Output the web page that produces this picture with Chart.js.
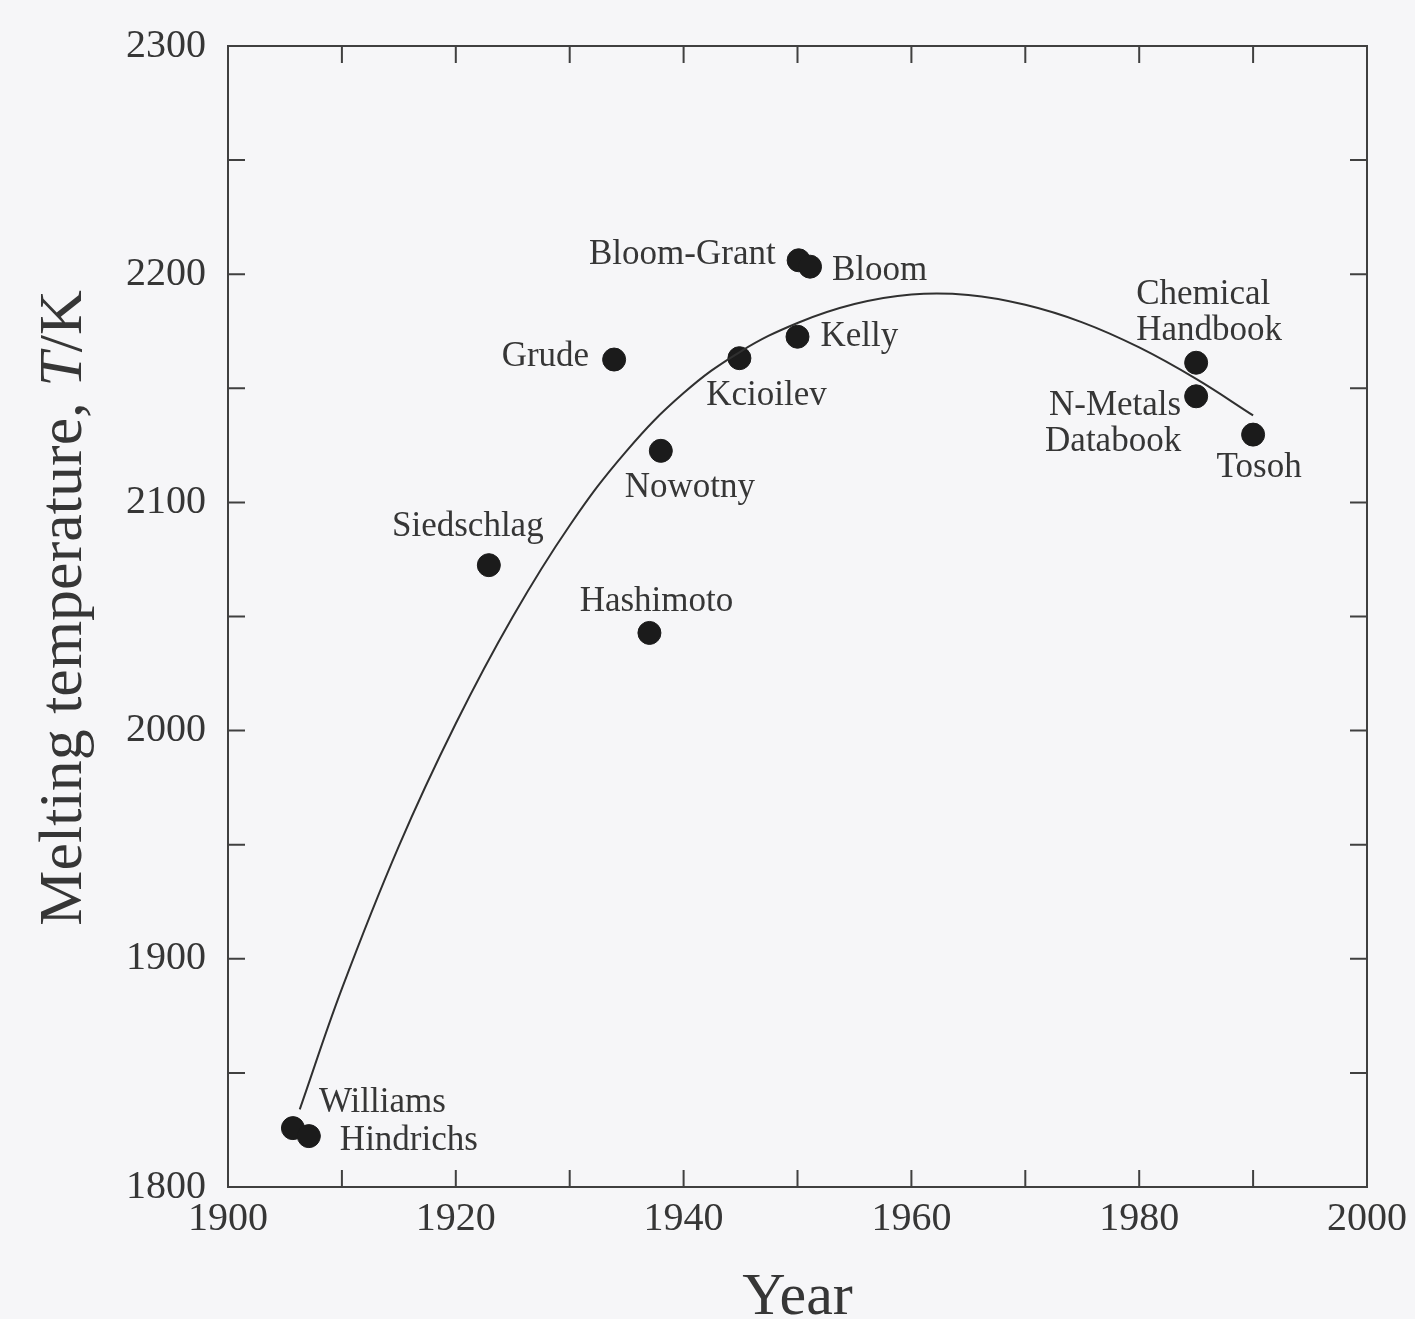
<!DOCTYPE html>
<html>
<head>
<meta charset="utf-8">
<script src="https://cdn.jsdelivr.net/npm/chart.js@4.4.0/dist/chart.umd.min.js"></script>
<style>
html, body { margin: 0; padding: 0; background: #f6f6f8; }
#wrap { width: 1415px; height: 1319px; }
</style>
</head>
<body>
<div id="wrap"><canvas id="myChart" width="1415" height="1319"></canvas></div>
<script>
// measured melting temperatures
const names = ['Williams', 'Hindrichs', 'Siedschlag', 'Hashimoto', 'Grude', 'Nowotny', 'Kcioilev',
    'Kelly', 'Bloom-Grant', 'Bloom', 'Chemical\nHandbook', 'N-Metals\nDatabook', 'Tosoh'];
const years = [1905.7, 1907.1, 1922.9, 1937.0, 1933.9, 1938.0, 1944.9, 1950.0, 1950.1, 1951.1, 1985.0, 1985.0, 1990.0];
const temps = [1825.8, 1822.3, 2072.5, 2042.8, 2162.6, 2122.6, 2163.2, 2172.6, 2206.1, 2203.3, 2161.2, 2146.5, 2129.7];

// fitted curve
const fitYears = [1906.3, 1910, 1915, 1920, 1925, 1930, 1935, 1940, 1945,
    1950, 1955, 1960, 1965, 1970, 1975, 1980, 1985, 1990];
const fitTemps = [1834.0, 1886.9, 1949.4, 2003.1, 2049.9, 2089.9, 2122.6, 2147.9, 2166.1,
    2178.6, 2186.9, 2191.1, 2190.9, 2186.6, 2178.9, 2167.9, 2154.1, 2138.1];

const xMinor = [1910, 1920, 1930, 1940, 1950, 1960, 1970, 1980, 1990];
const yMinor = [1850, 1900, 1950, 2000, 2050, 2100, 2150, 2200, 2250];

// label placement: dx, dy, align
const labelPlace = [
    [26, -25, 'left'], [31, 5, 'left'], [-21, -38, 'center'], [7, -31, 'center'],
    [-25, -3, 'right'], [29, 37, 'center'], [27, 38, 'center'], [23, 0, 'left'],
    [-23, -5, 'right'], [22, 4, 'left'], [-60, -68, 'left'], [-15, 10, 'right'], [6, 33, 'center']
];

const serif = "'Liberation Serif', 'Times New Roman', serif";
const ink = '#363636';

const frame = {
    id: 'frame',
    afterDatasetsDraw(chart) {
        const { ctx, chartArea: a, scales: { x, y } } = chart;
        ctx.save();
        ctx.strokeStyle = '#404040';
        ctx.lineWidth = 2;
        ctx.strokeRect(a.left, a.top, a.right - a.left, a.bottom - a.top);
        ctx.beginPath();
        xMinor.forEach(v => {
            const px = x.getPixelForValue(v);
            ctx.moveTo(px, a.bottom); ctx.lineTo(px, a.bottom - 17);
            ctx.moveTo(px, a.top); ctx.lineTo(px, a.top + 17);
        });
        yMinor.forEach(v => {
            const py = y.getPixelForValue(v);
            ctx.moveTo(a.left, py); ctx.lineTo(a.left + 17, py);
            ctx.moveTo(a.right, py); ctx.lineTo(a.right - 17, py);
        });
        ctx.stroke();

        // y title with italic T
        ctx.translate(65, 608);
        ctx.rotate(-Math.PI / 2);
        ctx.fillStyle = ink;
        ctx.textBaseline = 'middle';
        const parts = [['Melting temperature, ', 'normal'], ['T', 'italic'], ['/K', 'normal']];
        let w = 0;
        parts.forEach(p => { ctx.font = p[1] + ' 62px ' + serif; w += ctx.measureText(p[0]).width; });
        let cx = -w / 2;
        parts.forEach(p => {
            ctx.font = p[1] + ' 62px ' + serif;
            ctx.fillText(p[0], cx, 0);
            cx += ctx.measureText(p[0]).width;
        });
        ctx.restore();
    }
};

const pointLabels = {
    id: 'pointLabels',
    afterDatasetsDraw(chart) {
        const { ctx } = chart;
        const meta = chart.getDatasetMeta(1);
        ctx.save();
        ctx.font = '35px ' + serif;
        ctx.fillStyle = ink;
        ctx.textBaseline = 'middle';
        meta.data.forEach((pt, i) => {
            const [dx, dy, align] = labelPlace[i];
            ctx.textAlign = align;
            names[i].split('\n').forEach((line, k) => {
                ctx.fillText(line, pt.x + dx, pt.y + dy + k * 36);
            });
        });
        ctx.restore();
    }
};

const data = {
    datasets: [{
        type: 'line',
        label: 'fit',
        data: fitYears.map((v, i) => ({ x: v, y: fitTemps[i] })),
        borderColor: '#303030',
        borderWidth: 2,
        pointRadius: 0,
        fill: false,
        tension: 0.4
    }, {
        type: 'scatter',
        label: 'measured',
        data: years.map((v, i) => ({ x: v, y: temps[i] })),
        backgroundColor: '#1b1b1b',
        borderColor: '#1b1b1b',
        pointRadius: 11.5
    }]
};

const config = {
    type: 'scatter',
    data: data,
    options: {
        responsive: false,
        animation: false,
        layout: { padding: { left: 0, right: 39, top: 45, bottom: 0 } },
        plugins: { legend: { display: false }, tooltip: { enabled: false } },
        scales: {
            x: {
                type: 'linear',
                min: 1900,
                max: 2000,
                afterFit: s => { s.height = 132; },
                grid: { display: false, drawTicks: false },
                border: { display: false },
                ticks: {
                    stepSize: 20,
                    padding: 8,
                    maxRotation: 0,
                    color: ink,
                    font: { family: serif, size: 40 },
                    callback: v => String(v)
                },
                title: {
                    display: true,
                    text: 'Year',
                    color: ink,
                    font: { family: serif, size: 60, lineHeight: 0.7 },
                    padding: { top: 0, bottom: 0 }
                }
            },
            y: {
                min: 1800,
                max: 2300,
                afterFit: s => { s.width = 228; },
                grid: { display: false, drawTicks: false },
                border: { display: false },
                ticks: {
                    stepSize: 100,
                    padding: 22,
                    color: ink,
                    font: { family: serif, size: 40 },
                    callback: v => String(v)
                }
            }
        }
    },
    plugins: [frame, pointLabels]
};

const myChart = new Chart(document.getElementById('myChart'), config);
</script>
</body>
</html>
